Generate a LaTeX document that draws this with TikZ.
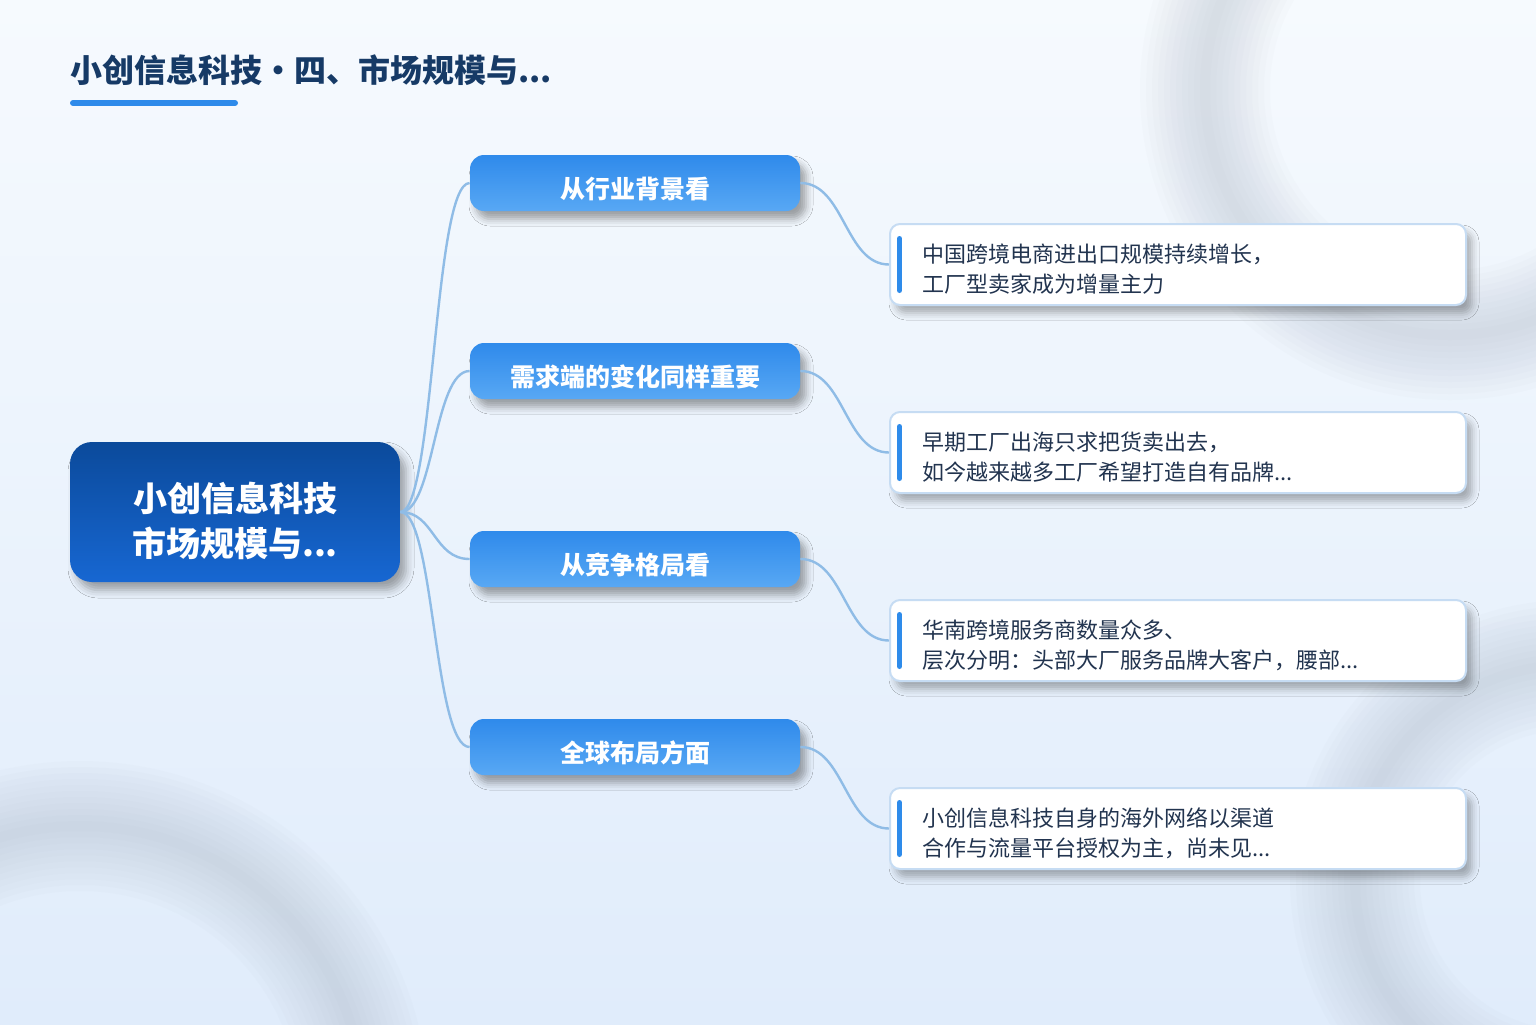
\documentclass[tikz,border=0pt]{standalone}
\usepackage{fontspec}
\setmainfont{Noto Sans CJK SC}
\usetikzlibrary{positioning,shadows.blur}

\definecolor{bgtop}{HTML}{F6FAFE}
\definecolor{bgbot}{HTML}{E0ECFB}
\definecolor{ringc}{HTML}{9EA9B8}
\definecolor{navy}{HTML}{163A66}
\definecolor{accent}{HTML}{2E8BEA}
\definecolor{roottop}{HTML}{0B4A9B}
\definecolor{rootbot}{HTML}{1767D2}
\definecolor{brtop}{HTML}{2F8AEB}
\definecolor{brbot}{HTML}{58A8F4}
\definecolor{leafline}{HTML}{C6DCF3}
\definecolor{leaftext}{HTML}{22344F}
\definecolor{linkc}{HTML}{8FBCE6}

\begin{document}
\begin{tikzpicture}[x=0.5pt,y=-0.5pt,
  rootbox/.style={rounded corners=11pt,top color=roottop,bottom color=rootbot,
    minimum width=165pt,minimum height=70pt,text width=165pt,inner xsep=0pt,inner ysep=0pt,
    align=center,text=white,font=\bfseries\fontsize{17}{22.5}\selectfont,
    execute at begin node={\rule{0pt}{24.5pt}},execute at end node={\rule[-3pt]{0pt}{3pt}},
    blur shadow={shadow xshift=3pt,shadow yshift=-4pt,shadow blur radius=4pt,shadow opacity=35}},
  branchbox/.style={rounded corners=7pt,top color=brtop,bottom color=brbot,
    minimum width=165pt,minimum height=28pt,inner ysep=0pt,text=white,
    font=\bfseries\fontsize{12.5}{15}\selectfont,
    execute at begin node={\rule{0pt}{16.5pt}},execute at end node={\rule[-1.5pt]{0pt}{1.5pt}},
    blur shadow={shadow xshift=3pt,shadow yshift=-4pt,shadow blur radius=3.5pt,shadow opacity=35}},
  leafbox/.style={rounded corners=5pt,draw=leafline,line width=1pt,fill=white,
    minimum width=288pt,minimum height=40.5pt,text width=256pt,inner xsep=16pt,inner ysep=0pt,
    align=left,text=leaftext,font=\fontsize{11}{15}\selectfont,
    execute at begin node={\rule{0pt}{15.4pt}},execute at end node={\rule[-2pt]{0pt}{2pt}},
    blur shadow={shadow xshift=3pt,shadow yshift=-4pt,shadow blur radius=3.5pt,shadow opacity=30}},
  bar/.style={accent,line width=2.5pt,line cap=round},
  link/.style={linkc,line width=1.2pt}]
  \useasboundingbox (0,0) rectangle (1536,1024);
  % background and soft rings
  \begin{scope}
    \clip (0,0) rectangle (1536,1024);
    \shade[top color=bgtop,bottom color=bgbot] (0,0) rectangle (1536,1024);
    \foreach \w in {130,118,...,10} {
      \draw[ringc,line width=\w*0.5pt,opacity=0.032] (1450,90) circle[radius=245];
      \draw[ringc,line width=\w*0.5pt,opacity=0.032] (80,1110) circle[radius=284];
      \draw[ringc,line width=\w*0.5pt,opacity=0.032] (1570,880) circle[radius=215];
    }
  \end{scope}

  % title
  \node[anchor=west,inner sep=0pt,text=navy,font=\bfseries\fontsize{16}{19}\selectfont]
    (title) at (70,70) {小创信息科技・四、市场规模与...};
  \draw[bar,line width=3pt] (73,103) -- (235,103);

  % root and branches
  \node[rootbox] (root) at (235,512) {小创信息科技\\市场规模与...};
  \node[branchbox] (b1) at (635,183) {从行业背景看};
  \node[branchbox] (b2) at (635,371) {需求端的变化同样重要};
  \node[branchbox] (b3) at (635,559) {从竞争格局看};
  \node[branchbox] (b4) at (635,747) {全球布局方面};

  % leaves
  \node[leafbox] (l1) at (1178,264.5) {中国跨境电商进出口规模持续增长，\\工厂型卖家成为增量主力};
  \node[leafbox] (l2) at (1178,452.5) {早期工厂出海只求把货卖出去，\\如今越来越多工厂希望打造自有品牌...};
  \node[leafbox] (l3) at (1178,640.5) {华南跨境服务商数量众多、\\层次分明：头部大厂服务品牌大客户，腰部...};
  \node[leafbox] (l4) at (1178,828.5) {小创信息科技自身的海外网络以渠道\\合作与流量平台授权为主，尚未见...};

  \foreach \l in {l1,l2,l3,l4}
    \draw[bar] ([xshift=5.25pt,yshift=-7.75pt]\l.north west) -- ([xshift=5.25pt,yshift=7.75pt]\l.south west);

  % connectors
  \foreach \b/\l in {b1/l1,b2/l2,b3/l3,b4/l4} {
    \draw[link] (root.east) .. controls +(17pt,0) and +(-18pt,0) .. (\b.west);
    \draw[link] (\b.east) .. controls +(22pt,0) and +(-22pt,0) .. (\l.west);
  }
\end{tikzpicture}
\end{document}
